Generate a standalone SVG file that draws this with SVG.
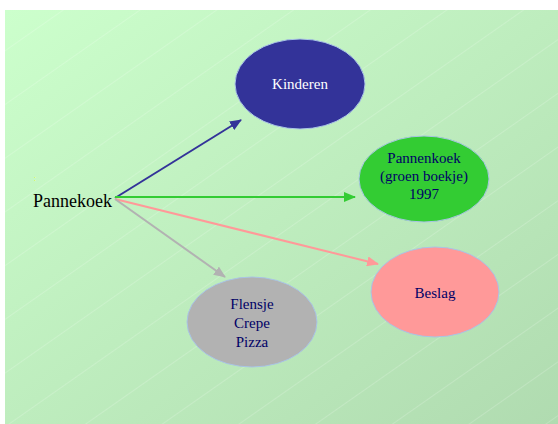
<svg xmlns="http://www.w3.org/2000/svg" width="558" height="424" viewBox="0 0 558 424">
<style>
.lbl{font-family:"Liberation Serif","Times New Roman",serif;font-size:15px;text-anchor:middle;fill:#000066}
.ell{stroke:#a9c4e6;stroke-width:1}
.con{fill:none;stroke-width:2}
</style>
<defs>
<linearGradient id="bg" x1="0" y1="0" x2="1" y2="1">
<stop offset="0" stop-color="#ccffcc"/>
<stop offset="1" stop-color="#b0dbb0"/>
</linearGradient>
<pattern id="lines" patternUnits="userSpaceOnUse" width="60" height="44" patternTransform="rotate(-35)">
<line x1="0" y1="0.5" x2="60" y2="0.5" stroke="#ffffff" stroke-opacity="0.18" stroke-width="1"/>
</pattern>
<marker id="mBlue" viewBox="0 0 12 10" refX="11" refY="5" markerWidth="12" markerHeight="10" markerUnits="userSpaceOnUse" orient="auto"><path d="M0,0 L12,5 L0,10 Z" fill="#333399"/></marker>
<marker id="mGreen" viewBox="0 0 12 10" refX="11" refY="5" markerWidth="12" markerHeight="10" markerUnits="userSpaceOnUse" orient="auto"><path d="M0,0 L12,5 L0,10 Z" fill="#33cc33"/></marker>
<marker id="mPink" viewBox="0 0 12 10" refX="11" refY="5" markerWidth="12" markerHeight="10" markerUnits="userSpaceOnUse" orient="auto"><path d="M0,0 L12,5 L0,10 Z" fill="#ff9999"/></marker>
<marker id="mGray" viewBox="0 0 12 10" refX="11" refY="5" markerWidth="12" markerHeight="10" markerUnits="userSpaceOnUse" orient="auto"><path d="M0,0 L12,5 L0,10 Z" fill="#b2b2b2"/></marker>
</defs>
<rect x="5" y="10" width="553" height="414" fill="url(#bg)"/>
<rect x="5" y="10" width="553" height="414" fill="url(#lines)"/>
<g id="connectors">
<line class="con" x1="115" y1="198" x2="241" y2="120" stroke="#333399" marker-end="url(#mBlue)"/>
<line class="con" x1="115" y1="197" x2="355" y2="197" stroke="#33cc33" stroke-width="3" marker-end="url(#mGreen)"/>
<line class="con" x1="115" y1="199" x2="378" y2="264" stroke="#ff9999" marker-end="url(#mPink)"/>
<line class="con" x1="115" y1="199" x2="225" y2="277" stroke="#b2b2b2" marker-end="url(#mGray)"/>
</g>
<g id="pannekoek">
<text x="34" y="181" font-family="Liberation Sans, sans-serif" font-size="7" fill="#ffff00">:</text>
<text x="33" y="207" font-family="Liberation Serif, serif" font-size="18" fill="#000000">Pannekoek</text>
</g>
<g id="kinderen">
<ellipse class="ell" cx="300" cy="84" rx="65" ry="45" fill="#333399" stroke="#333399"/>
<text class="lbl" x="300" y="89" style="fill:#ffffff">Kinderen</text>
</g>
<g id="pannenkoek-groen">
<ellipse class="ell" cx="424" cy="179" rx="65" ry="43" fill="#33cc33" stroke="#33cc33"/>
<text class="lbl" x="424" y="163">Pannenkoek</text>
<text class="lbl" x="424" y="181">(groen boekje)</text>
<text class="lbl" x="424" y="199">1997</text>
</g>
<g id="beslag">
<ellipse class="ell" cx="435" cy="292" rx="64" ry="45" fill="#ff9999"/>
<text class="lbl" x="435" y="298">Beslag</text>
</g>
<g id="flensje">
<ellipse class="ell" cx="252" cy="322" rx="65" ry="45" fill="#b2b2b2"/>
<text class="lbl" x="252" y="309">Flensje</text>
<text class="lbl" x="252" y="328">Crepe</text>
<text class="lbl" x="252" y="347">Pizza</text>
</g>
</svg>
